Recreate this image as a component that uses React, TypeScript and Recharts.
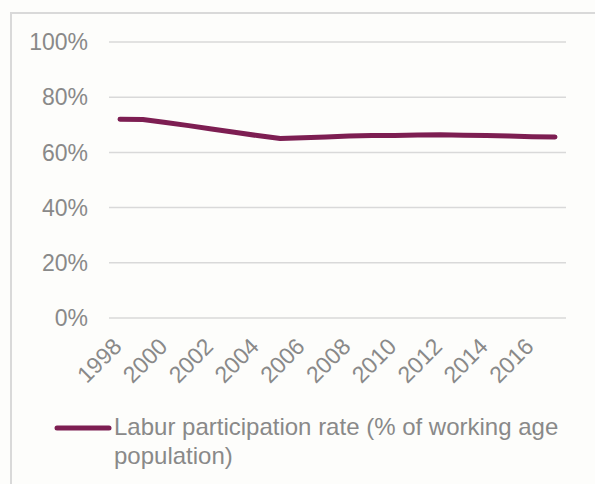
import React from 'react';
import {
  LineChart,
  Line,
  XAxis,
  YAxis,
  CartesianGrid,
  Legend
} from 'recharts';

// Labour participation rate, % of working age population
const years = [
  '1998', '1999', '2000', '2001', '2002', '2003', '2004', '2005', '2006', '2007',
  '2008', '2009', '2010', '2011', '2012', '2013', '2014', '2015', '2016', '2017'
];
const participationRate = [
  72.0, 71.9, 70.8, 69.7, 68.5, 67.3, 66.1, 65.0, 65.3, 65.6,
  65.9, 66.1, 66.1, 66.3, 66.4, 66.2, 66.1, 65.9, 65.7, 65.6
];
const yTicks = [0, 20, 40, 60, 80, 100];
const seriesName = 'Labur participation rate (% of working age population)';

const data = years.map((year, i) => ({ year, rate: participationRate[i] }));

const FONT = '"Liberation Sans", Arial, sans-serif';
const TEXT_GREY = '#898989';
const LINE_COLOR = '#7d1e52';

const YearTick = ({ x, y, payload }: any) => (
  <text
    transform={`translate(${x + 3},${y + 30}) rotate(-45)`}
    textAnchor="end"
    fill={TEXT_GREY}
    fontSize={23}
    fontFamily={FONT}
  >
    {payload.value}
  </text>
);

const renderLegend = () => (
  <div style={{ display: 'flex', alignItems: 'flex-start', fontFamily: FONT }}>
    <svg width={60} height={12} style={{ marginTop: 10, flex: 'none' }}>
      <line x1={3} y1={6} x2={55} y2={6} stroke={LINE_COLOR} strokeWidth={5} strokeLinecap="round" />
    </svg>
    <span style={{ fontSize: 24, lineHeight: '29px', color: TEXT_GREY, width: 460 }}>
      {seriesName}
    </span>
  </div>
);

export default function App() {
  return (
    <div style={{ position: 'absolute', left: 0, top: 0, width: 595, height: 484, background: '#fdfdfb', overflow: 'hidden' }}>
      <div
        style={{
          position: 'absolute',
          left: 10,
          top: 12,
          width: 640,
          height: 520,
          borderTop: '2px solid #d9d9d9',
          borderLeft: '2px solid #d9d9d9'
        }}
      />
      <div style={{ position: 'absolute', left: 0, top: 0 }}>
        <LineChart
          width={595}
          height={484}
          data={data}
          margin={{ top: 42, right: 29, bottom: 0, left: 0 }}
        >
          <CartesianGrid vertical={false} stroke="#d9d9d9" strokeWidth={1.5} />
          <XAxis
            dataKey="year"
            interval={1}
            axisLine={false}
            tickLine={false}
            tickSize={0}
            tickMargin={0}
            height={166}
            padding={{ left: 11, right: 11 }}
            tick={<YearTick />}
          />
          <YAxis
            domain={[0, 100]}
            ticks={yTicks}
            tickFormatter={(v: number) => `${v}%`}
            axisLine={false}
            tickLine={false}
            tickSize={0}
            tickMargin={21}
            width={109}
            tick={{ fill: TEXT_GREY, fontSize: 23, fontFamily: FONT }}
          />
          <Legend
            layout="vertical"
            align="center"
            verticalAlign="middle"
            content={renderLegend}
            wrapperStyle={{ left: 54, top: 412, width: 530, height: 60 }}
          />
          <Line
            type="linear"
            dataKey="rate"
            name={seriesName}
            stroke={LINE_COLOR}
            strokeWidth={5}
            strokeLinecap="round"
            strokeLinejoin="round"
            dot={false}
            isAnimationActive={false}
          />
        </LineChart>
      </div>
    </div>
  );
}
